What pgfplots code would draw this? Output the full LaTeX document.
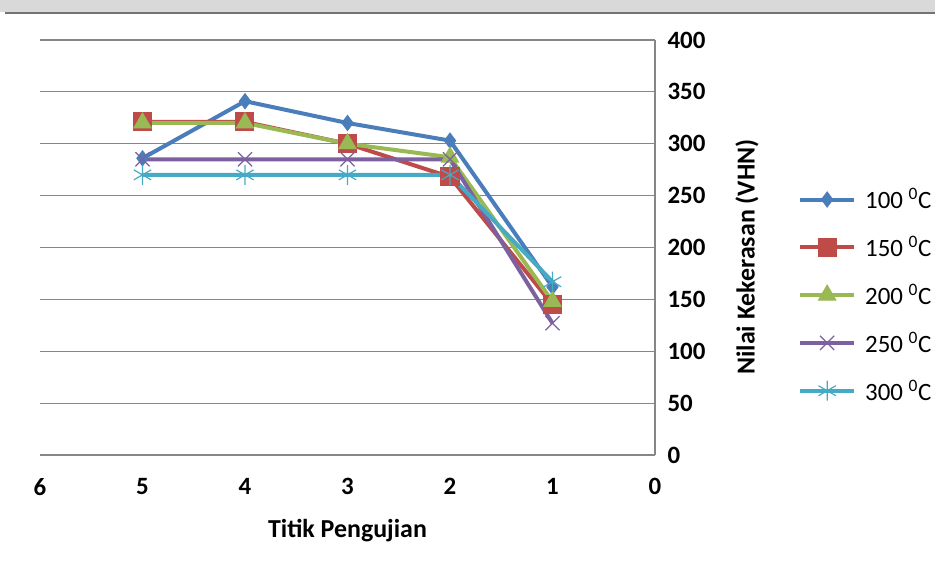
\documentclass[border=0pt]{standalone}
\usepackage{pgfplots}
\pgfplotsset{compat=1.18}
\usepackage{fontspec}
\setmainfont{Carlito}
\definecolor{cA}{HTML}{4A7EBB}
\definecolor{cB}{HTML}{BE4B48}
\definecolor{cC}{HTML}{98B954}
\definecolor{cD}{HTML}{7D60A0}
\definecolor{cE}{HTML}{46AAC5}
\definecolor{gridc}{HTML}{868686}
\begin{document}
\begin{tikzpicture}[x=1bp,y=1bp]
\path[use as bounding box] (-40,-116) rectangle (895,455);
\fill[black!15] (-40,443) rectangle (895,455);
\draw[black!55, line width=1.2bp] (-35,442) -- (895,442);
\begin{axis}[
  at={(0,0)}, anchor=south west,
  scale only axis, width=615bp, height=415bp,
  xmin=0, xmax=6, ymin=0, ymax=400,
  x dir=reverse,
  xtick={0,1,...,6}, ytick={0,50,...,400},
  axis x line*=bottom, axis y line*=right,
  axis line style={gridc, line width=1.2bp},
  major tick length=0pt,
  ymajorgrids, grid style={gridc, line width=1.2bp},
  /pgf/number format/assume math mode=true,
  tick label style={font=\fontsize{25}{28}\selectfont\bfseries, text=black},
  xticklabel style={yshift=-20bp},
  yticklabel style={anchor=west, xshift=9bp},
  xlabel={Titik Pengujian},
  xlabel style={at={(axis description cs:0.5,-0.181)}, anchor=center, font=\fontsize{26}{30}\selectfont\bfseries},
  ylabel={Nilai Kekerasan (VHN)},
  ylabel style={at={(axis description cs:1.1496,0.477)}, anchor=center, rotate=0, font=\fontsize{26}{30}\selectfont\bfseries},
  legend style={at={(axis description cs:1.2276,0.652)}, anchor=north west, draw=none, fill=none,
    font=\fontsize{25}{28}\selectfont, row sep=22bp,
    nodes={inner sep=2bp},
    /tikz/every odd column/.append style={column sep=7bp}},
  legend cell align=left,
  legend image code/.code={\draw[mark repeat=2,mark phase=2,#1] plot coordinates {(0bp,0bp)(27bp,0bp)(54bp,0bp)};},
  every axis plot/.append style={line width=4bp},
]
\addplot[cA, mark=diamond*, mark size=7.5bp, mark options={line width=1bp}] coordinates {(5,286)(4,341)(3,320)(2,303)(1,162)};
\addlegendentry{100 \textsuperscript{0}C}
\addplot[cB, mark=square*, mark size=9bp, mark options={line width=1bp}] coordinates {(5,321)(4,321)(3,300)(2,268)(1,145)};
\addlegendentry{150 \textsuperscript{0}C}
\addplot[cC, mark=triangle*, mark size=10bp, mark options={line width=1bp}] coordinates {(5,320)(4,320)(3,300)(2,287)(1,148)};
\addlegendentry{200 \textsuperscript{0}C}
\addplot[cD, mark=x, mark size=10bp, mark options={line width=1.2bp}] coordinates {(5,285)(4,285)(3,285)(2,285)(1,127)};
\addlegendentry{250 \textsuperscript{0}C}
\addplot[cE, mark=asterisk, mark size=10bp, mark options={line width=1.2bp}] coordinates {(5,270)(4,270)(3,270)(2,270)(1,167)};
\addlegendentry{300 \textsuperscript{0}C}
\end{axis}
\end{tikzpicture}
\end{document}
